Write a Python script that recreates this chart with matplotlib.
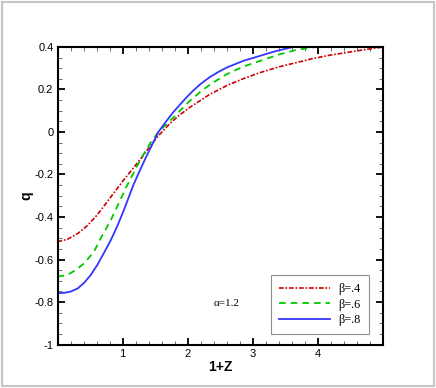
import numpy as np
import matplotlib
matplotlib.use("Agg")
import matplotlib.pyplot as plt
from matplotlib.patches import Rectangle
from matplotlib.ticker import MultipleLocator

plt.rcParams['lines.scale_dashes'] = False

# Curves (x = 1+Z, y = q)
x_b04 = [0.0, 0.15, 0.31, 0.46, 0.61, 0.74, 0.87, 1.0, 1.15, 1.30, 1.42, 1.55, 1.68,
         1.78, 1.88, 2.03, 2.14, 2.34, 2.60, 2.85, 3.11, 3.41, 3.67, 3.92, 4.18, 4.43,
         4.69, 4.94, 5.0]
q_b04 = [-0.516, -0.505, -0.478, -0.440, -0.390, -0.338, -0.285, -0.232, -0.175, -0.118,
         -0.068, -0.018, 0.025, 0.054, 0.081, 0.115, 0.137, 0.177, 0.218, 0.250, 0.279,
         0.307, 0.326, 0.345, 0.361, 0.373, 0.386, 0.397, 0.399]

x_b06 = [0.0, 0.15, 0.28, 0.41, 0.56, 0.69, 0.82, 0.94, 1.06, 1.27, 1.42, 1.55, 1.78,
         2.01, 2.20, 2.34, 2.60, 2.85, 3.11, 3.41, 3.67, 3.97]
q_b06 = [-0.680, -0.673, -0.649, -0.618, -0.563, -0.485, -0.414, -0.336, -0.257, -0.132,
         -0.055, 0.0, 0.068, 0.140, 0.190, 0.222, 0.272, 0.307, 0.334, 0.365, 0.386, 0.400]

x_b08 = [0.0, 0.10, 0.20, 0.31, 0.41, 0.51, 0.61, 0.71, 0.82, 0.92, 1.02, 1.165, 1.27,
         1.37, 1.47, 1.55, 1.67, 1.77, 1.88, 1.98, 2.08, 2.20, 2.34, 2.47, 2.60, 2.85,
         3.11, 3.35, 3.62]
q_b08 = [-0.758, -0.757, -0.751, -0.736, -0.709, -0.673, -0.626, -0.571, -0.508, -0.442,
         -0.367, -0.250, -0.178, -0.112, -0.050, 0.0, 0.050, 0.090, 0.128, 0.162, 0.193,
         0.226, 0.258, 0.282, 0.303, 0.334, 0.358, 0.380, 0.400]

labels = [u'\u03b2=.4', u'\u03b2=.6', u'\u03b2=.8']
xticks = [1, 2, 3, 4]
yticks = [-1, -0.8, -0.6, -0.4, -0.2, 0, 0.2, 0.4]
ytick_labels = ['-1', '-0.8', '-0.6', '-0.4', '-0.2', '0', '0.2', '0.4']

fig = plt.figure(figsize=(4.36, 3.88), dpi=100)
# light grey frame around the whole picture
fig.patches.append(Rectangle((0.004, 0.004), 0.992, 0.992, transform=fig.transFigure,
                             fill=False, edgecolor='#c4c4c4', linewidth=1.5))

ax = fig.add_axes([0.132, 0.112, 0.746, 0.767])

ax.plot(x_b04, q_b04, color='#cc0000', linewidth=1.2, linestyle=(0, (3.4, 1.3, 1.2, 1.3)),
        label=labels[0])
ax.plot(x_b06, q_b06, color='#00c800', linewidth=1.3, linestyle=(0, (4.8, 3.6)),
        label=labels[1])
ax.plot(x_b08, q_b08, color='#3535ff', linewidth=1.3, label=labels[2])

ax.set_xlim(0, 5)
ax.set_ylim(-1, 0.4)

ax.set_xticks(xticks)
ax.xaxis.set_minor_locator(MultipleLocator(0.2))
ax.set_yticks(yticks)
ax.set_yticklabels(ytick_labels)
ax.yaxis.set_minor_locator(MultipleLocator(0.05))

ax.tick_params(which='both', direction='in', top=True, right=True, labelsize=8,
               pad=3, labelfontfamily='Liberation Sans')
ax.tick_params(which='major', length=5, width=1.3)
ax.tick_params(which='minor', length=3, width=0.6, color='#555555')
for s in ax.spines.values():
    s.set_linewidth(1.5)

ax.set_xlabel('1+Z', fontsize=10, fontweight='bold', family='Liberation Sans')
ax.set_ylabel('q', fontsize=10, fontweight='bold', family='Liberation Sans')
ax.xaxis.set_label_coords(0.5, -0.052)
ax.yaxis.set_label_coords(-0.074, 0.5)

ax.text(0.52, 0.139, u'\u03b1=1.2', transform=ax.transAxes, fontsize=8,
        family='Liberation Serif', ha='center', va='center')

leg = ax.legend(loc='lower right', bbox_to_anchor=(0.957, 0.035), fancybox=False,
                edgecolor='#909090', framealpha=1, handlelength=4.2, handletextpad=0.7,
                labelspacing=0.3, borderpad=0.65, borderaxespad=0,
                prop={'family': 'Liberation Serif', 'size': 8.8})
leg.get_frame().set_linewidth(0.8)

fig.savefig('out.png', dpi=100)
